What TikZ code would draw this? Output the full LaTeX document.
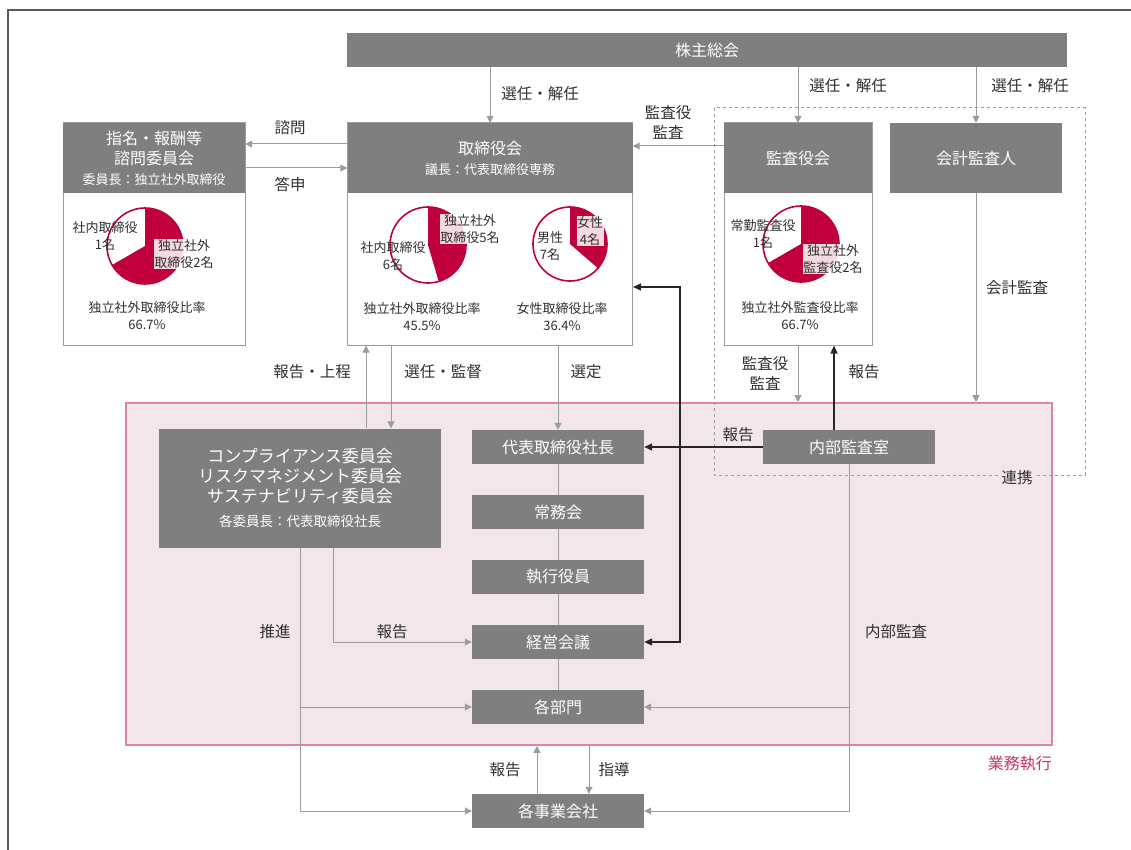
\documentclass[tikz,border=0pt]{standalone}
\usepackage{fontspec}
\setmainfont{Noto Sans CJK JP}
\usetikzlibrary{arrows.meta}

\definecolor{boxgray}{HTML}{7F7F7F}
\definecolor{linegray}{HTML}{9C9C9C}
\definecolor{txtgray}{HTML}{303030}
\definecolor{piered}{HTML}{C0003C}
\definecolor{gyomufill}{HTML}{F2E6EB}
\definecolor{gyomuline}{HTML}{E3849F}
\definecolor{gyomutext}{HTML}{C8336A}

\newcommand{\fsz}[1]{\fontsize{#1}{#1}\selectfont}
% pie: centre, radius, red arc from, to
\newcommand{\drawpie}[4]{%
  \fill[piered] (#1) -- ++(#3:#2) arc (#3:#4:#2) -- cycle;
  \draw[piered, line width=1.6pt] (#1) circle (#2);}

\tikzset{
  gbox/.style={fill=boxgray, text=white, inner sep=0pt, align=center, font=\fontsize{16}{20}\selectfont},
  wbox/.style={draw=linegray, line width=1pt, fill=white, inner sep=0pt},
  lbl/.style={text=txtgray, align=center, font=\fontsize{15.5}{20}\selectfont},
  plbl/.style={text=txtgray, align=center, font=\fontsize{13}{17}\selectfont, inner sep=1pt},
  onred/.style={fill=white, fill opacity=0.85, text opacity=1, inner sep=0.5pt},
  arr/.style={draw=linegray, line width=1pt, -{Triangle[length=7pt,width=7pt]}},
  ln/.style={draw=linegray, line width=1pt},
  blk/.style={draw=black!85, line width=1.3pt, -{Triangle[length=8pt,width=7pt]}},
}

\begin{document}
\begin{tikzpicture}[x=1pt, y=-1pt]
\useasboundingbox (0,0) rectangle (1131,850);
\draw[draw=black!65, line width=2pt] (8,850) -- (8,10) -- (1131,10);

% execution area
\node[draw=gyomuline, line width=1.6pt, fill=gyomufill, minimum width=926pt, minimum height=342pt] (gyomu) at (589,574) {};
\node[text=gyomutext, font=\fsz{16}, anchor=east, inner sep=0pt] at (1052,764) {業務執行};
\draw[dashed, draw=linegray, line width=1pt] (714,108) rectangle (1085,475);
\node[lbl, fill=gyomufill, inner sep=3pt] at (1017,478) {連携};

% top boards
\node[gbox, minimum width=720pt, minimum height=34pt] (soukai) at (707,50) {株主総会};
\node[wbox, minimum width=182pt, minimum height=222pt] (shimeiB) at (154,234) {};
\node[gbox, minimum width=182pt, minimum height=70pt] (shimeiH) at (154,158) {指名・報酬等\\諮問委員会\\{\fsz{13}委員長：独立社外取締役}};
\node[wbox, minimum width=285pt, minimum height=222pt] (toriB) at (490,234) {};
\node[gbox, minimum width=285pt, minimum height=70pt] (toriH) at (490,158) {取締役会\\{\fsz{13}議長：代表取締役専務}};
\node[wbox, minimum width=148pt, minimum height=222pt] (kansaB) at (798,234) {};
\node[gbox, minimum width=148pt, minimum height=70pt] (kansaH) at (798,158) {監査役会};
\node[gbox, minimum width=172pt, minimum height=70pt] (kaikei) at (976,158) {会計監査人};

\drawpie{145,246}{38}{-210}{-450}
\drawpie{428,245}{38}{73.6}{-90}
\drawpie{570,244}{37}{40.9}{-90}
\drawpie{801,244}{38}{-210}{-450}

\node[plbl] at (105,236) {社内取締役\\1名};
\node[plbl, onred] at (184,254) {独立社外\\取締役2名};
\node[plbl] at (147,316) {独立社外取締役比率\\66.7\%};
\node[plbl, onred] at (470,229) {独立社外\\取締役5名};
\node[plbl] at (393,256) {社内取締役\\6名};
\node[plbl, onred] at (590,231) {女性\\4名};
\node[plbl] at (550,246) {男性\\7名};
\node[plbl] at (422,317) {独立社外取締役比率\\45.5\%};
\node[plbl] at (562,317) {女性取締役比率\\36.4\%};
\node[plbl] at (763,234) {常勤監査役\\1名};
\node[plbl, onred] at (833,259) {独立社外\\監査役2名};
\node[plbl] at (800,316) {独立社外監査役比率\\66.7\%};

% execution side
\node[gbox, minimum width=282pt, minimum height=119pt, font=\fontsize{17}{20}\selectfont] (comp) at (300,488)
  {コンプライアンス委員会\\リスクマネジメント委員会\\サステナビリティ委員会\\[4pt]{\fsz{13.5}各委員長：代表取締役社長}};
\node[gbox, minimum width=172pt, minimum height=34pt] (daihyo) at (558,447) {代表取締役社長};
\node[gbox, minimum width=172pt, minimum height=34pt] (jomu) at (558,512) {常務会};
\node[gbox, minimum width=172pt, minimum height=34pt] (shikko) at (558,577) {執行役員};
\node[gbox, minimum width=172pt, minimum height=34pt] (keiei) at (558,642) {経営会議};
\node[gbox, minimum width=172pt, minimum height=34pt] (kakubu) at (558,707) {各部門};
\node[gbox, minimum width=172pt, minimum height=34pt] (jigyo) at (558,811) {各事業会社};
\node[gbox, minimum width=172pt, minimum height=34pt] (naibu) at (849,447) {内部監査室};

% connectors
\foreach \n in {toriH, kansaH, kaikei}
  \draw[arr] (soukai.south -| \n.north) -- (\n.north);
\node[lbl] at (540,94) {選任・解任};
\node[lbl] at (848,86) {選任・解任};
\node[lbl] at (1030,86) {選任・解任};

\draw[arr] ([yshift=14pt]toriH.west) -- ([yshift=14pt]shimeiH.east);
\draw[arr] ([yshift=-10pt]shimeiH.east) -- ([yshift=-10pt]toriH.west);
\node[lbl] at (290,128) {諮問};
\node[lbl] at (290,184) {答申};
\draw[arr] ([yshift=12pt]kansaH.west) -- ([yshift=12pt]toriH.east);
\node[lbl] at (668,122) {監査役\\監査};

\coordinate (bk) at (680,287);
\draw[blk, {Triangle[length=8pt,width=7pt]}-{Triangle[length=8pt,width=7pt]}] (keiei.east) -| (bk) -- (bk -| toriB.east);

\coordinate (up1) at (366,0);
\coordinate (dn1) at (391,0);
\draw[arr] (up1 |- comp.north) -- (up1 |- toriB.south);
\draw[arr] (dn1 |- toriB.south) -- (dn1 |- comp.north);
\draw[arr] (daihyo.north |- toriB.south) -- (daihyo.north);
\node[lbl] at (312,372) {報告・上程};
\node[lbl] at (443,372) {選任・監督};
\node[lbl] at (586,372) {選定};

\coordinate (up3) at (834,0);
\draw[arr] (kansaB.south) -- (kansaB.south |- gyomu.north);
\draw[blk] (up3 |- naibu.north) -- (up3 |- kansaB.south);
\draw[arr] (kaikei.south) -- (kaikei.south |- gyomu.north);
\node[lbl] at (765,373) {監査役\\監査};
\node[lbl] at (864,372) {報告};
\node[lbl] at (1017,288) {会計監査};
\draw[blk] (naibu.west) -- (daihyo.east);
\node[lbl] at (738,435) {報告};

\foreach \a/\b in {daihyo/jomu, jomu/shikko, shikko/keiei, keiei/kakubu}
  \draw[ln] (\a) -- (\b);

\coordinate (up4) at (333,0);
\draw[arr] (comp.south) |- (jigyo.west);
\draw[arr] (comp.south |- kakubu.west) -- (kakubu.west);
\draw[arr] (up4 |- comp.south) |- (keiei.west);
\node[lbl] at (275,632) {推進};
\node[lbl] at (392,632) {報告};

\draw[arr] (naibu.south) |- (jigyo.east);
\draw[arr] (naibu.south |- kakubu.east) -- (kakubu.east);
\node[lbl] at (896,632) {内部監査};

\coordinate (up5) at (537,0);
\coordinate (dn5) at (589,0);
\draw[arr] (up5 |- jigyo.north) -- (up5 |- gyomu.south);
\draw[arr] (dn5 |- gyomu.south) -- (dn5 |- jigyo.north);
\node[lbl] at (505,770) {報告};
\node[lbl] at (614,770) {指導};
\end{tikzpicture}
\end{document}
